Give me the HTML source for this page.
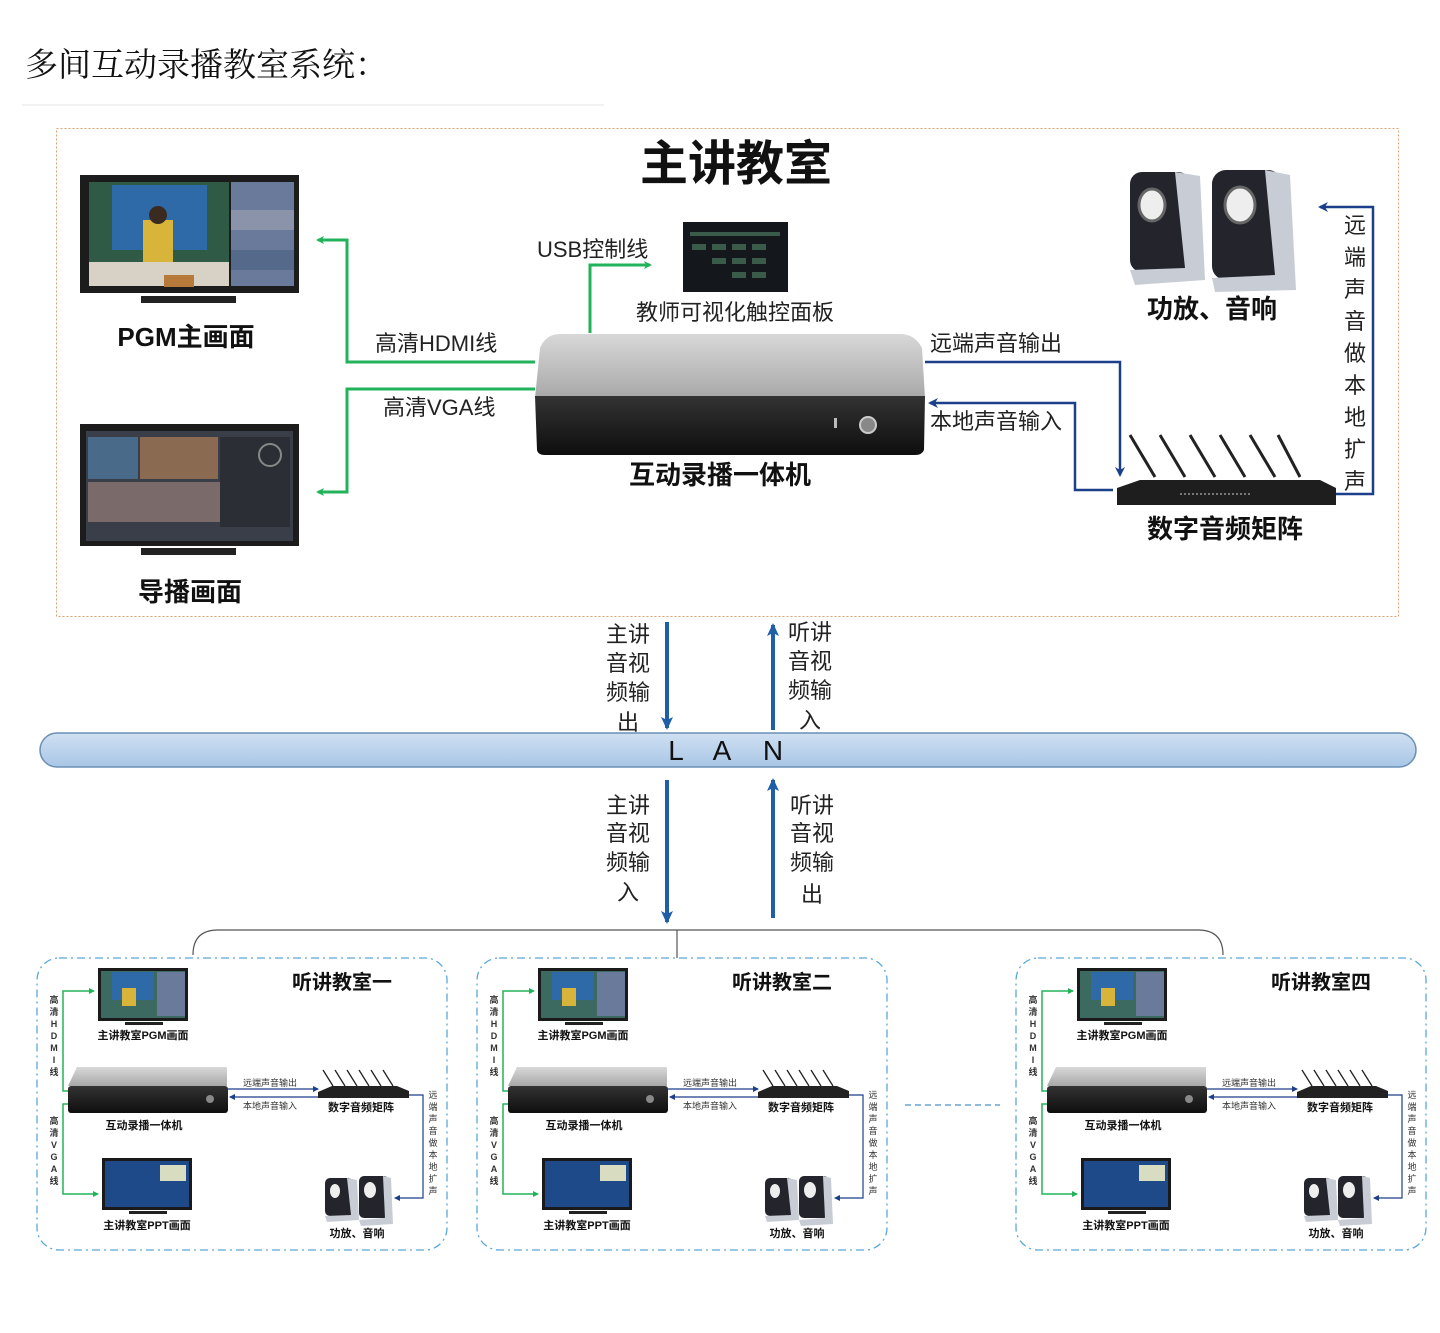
<!DOCTYPE html>
<html><head><meta charset="utf-8"><style>
html,body{margin:0;padding:0;background:#fff;width:1440px;height:1333px;overflow:hidden}
svg{display:block}
text{font-family:"Liberation Sans","Noto Sans CJK SC",sans-serif}
.b{font-weight:bold}
.s{font-family:"Liberation Serif","Noto Serif CJK SC",serif}
</style></head><body>
<svg width="1440" height="1333" viewBox="0 0 1440 1333" xmlns="http://www.w3.org/2000/svg">
<defs>
<marker id="ga" markerWidth="8" markerHeight="8" refX="6" refY="4" orient="auto" markerUnits="userSpaceOnUse"><path d="M0,0 L8,4 L0,8 L2,4z" fill="#22b35a"/></marker>
<marker id="ba" markerWidth="10" markerHeight="10" refX="8" refY="5" orient="auto" markerUnits="userSpaceOnUse"><path d="M0,0 L10,5 L0,10 L3,5z" fill="#1c3f8a"/></marker>
<marker id="la" markerWidth="14" markerHeight="14" refX="11" refY="7" orient="auto" markerUnits="userSpaceOnUse"><path d="M0,1 L13,7 L0,13 L3,7z" fill="#1f5fa8"/></marker>
<marker id="sa" markerWidth="6" markerHeight="6" refX="5" refY="3" orient="auto" markerUnits="userSpaceOnUse"><path d="M0,0 L6,3 L0,6z" fill="#1c3f8a"/></marker>
<marker id="sg" markerWidth="6" markerHeight="6" refX="5" refY="3" orient="auto" markerUnits="userSpaceOnUse"><path d="M0,0 L6,3 L0,6z" fill="#22b35a"/></marker>
<linearGradient id="sil" x1="0" y1="0" x2="0" y2="1"><stop offset="0" stop-color="#d8d8d8"/><stop offset="1" stop-color="#a8a8a8"/></linearGradient>
<linearGradient id="blk" x1="0" y1="0" x2="0" y2="1"><stop offset="0" stop-color="#333"/><stop offset="1" stop-color="#0e0e0e"/></linearGradient>
<linearGradient id="lan" x1="0" y1="0" x2="0" y2="1"><stop offset="0" stop-color="#cfe0f2"/><stop offset="1" stop-color="#a9c6e6"/></linearGradient>
</defs>

<!-- header -->
<text x="25" y="76" font-size="33" class="s" fill="#111">多间互动录播教室系统：</text>
<line x1="22" y1="105" x2="604" y2="105" stroke="#eee" stroke-width="1.5"/>

<!-- main frame -->
<rect x="56.5" y="128.5" width="1342" height="488" fill="none" stroke="#e0a070" stroke-width="1" stroke-dasharray="2,2"/>
<text x="736" y="180" font-size="48" class="b" text-anchor="middle" fill="#111">主讲教室</text>

<!-- PGM monitor -->
<rect x="80" y="175" width="219" height="118" fill="#1c1c1c"/>
<rect x="89" y="182" width="140" height="104" fill="#2e5a46"/>
<rect x="112" y="185" width="95" height="65" fill="#2f6aa8"/>
<rect x="89" y="262" width="140" height="24" fill="#d8d2c6"/>
<rect x="143" y="220" width="30" height="42" fill="#d8b43a"/>
<circle cx="158" cy="215" r="9" fill="#3a2a20"/>
<rect x="164" y="275" width="30" height="12" fill="#b87a3a"/>
<rect x="231" y="182" width="63" height="104" fill="#6a7a9a"/>
<rect x="231" y="210" width="63" height="20" fill="#8a93aa"/>
<rect x="231" y="250" width="63" height="20" fill="#556a8a"/>
<rect x="141" y="296" width="95" height="7" fill="#222"/>
<text x="186" y="346" font-size="26" class="b" text-anchor="middle" fill="#111">PGM主画面</text>

<!-- director monitor -->
<rect x="80" y="424" width="219" height="122" fill="#1c1c1c"/>
<rect x="86" y="431" width="207" height="110" fill="#3a3e48"/>
<rect x="88" y="437" width="50" height="42" fill="#4a6a8a"/>
<rect x="140" y="437" width="78" height="42" fill="#8a6a50"/>
<rect x="88" y="482" width="150" height="40" fill="#7a6a6a"/>
<rect x="220" y="437" width="70" height="90" fill="#2b2e34"/>
<circle cx="270" cy="455" r="11" fill="none" stroke="#888" stroke-width="2"/>
<rect x="141" y="548" width="95" height="7" fill="#222"/>
<text x="190" y="601" font-size="26" class="b" text-anchor="middle" fill="#111">导播画面</text>

<!-- green links -->
<polyline points="535,362 347,362 347,240 318,240" fill="none" stroke="#22b35a" stroke-width="3" marker-end="url(#ga)"/>
<polyline points="535,389 347,389 347,492 318,492" fill="none" stroke="#22b35a" stroke-width="3" marker-end="url(#ga)"/>
<text x="375" y="351" font-size="22" fill="#222">高清HDMI线</text>
<text x="383" y="415" font-size="22" fill="#222">高清VGA线</text>
<polyline points="590,333 590,265 650,265" fill="none" stroke="#22b35a" stroke-width="3" marker-end="url(#ga)"/>
<text x="537" y="257" font-size="22" fill="#222">USB控制线</text>

<!-- touch panel -->
<rect x="683" y="222" width="105" height="70" fill="#14181c"/>
<g fill="#3a5a4a"><rect x="690" y="232" width="90" height="4"/><rect x="692" y="244" width="14" height="6"/><rect x="712" y="244" width="14" height="6"/><rect x="732" y="244" width="14" height="6"/><rect x="752" y="244" width="14" height="6"/><rect x="712" y="258" width="14" height="6"/><rect x="732" y="258" width="14" height="6"/><rect x="752" y="258" width="14" height="6"/><rect x="732" y="272" width="14" height="6"/><rect x="752" y="272" width="14" height="6"/></g>
<text x="735" y="320" font-size="22" text-anchor="middle" fill="#222">教师可视化触控面板</text>

<!-- main device -->
<path d="M560,334 L900,334 Q915,334 922,348 L925,398 L535,398 L540,348 Q546,334 560,334z" fill="url(#sil)"/>
<path d="M535,396 L925,396 L924,450 Q922,455 915,455 L545,455 Q538,455 537,450z" fill="url(#blk)"/>
<rect x="834" y="418" width="3" height="10" fill="#bbb"/>
<circle cx="868" cy="425" r="8" fill="#888" stroke="#ccc" stroke-width="2"/>
<text x="720" y="484" font-size="26" class="b" text-anchor="middle" fill="#111">互动录播一体机</text>

<!-- blue audio links -->
<polyline points="925,362 1120,362 1120,475" fill="none" stroke="#1c3f8a" stroke-width="2.5" marker-end="url(#ba)"/>
<text x="930" y="351" font-size="22" fill="#222">远端声音输出</text>
<polyline points="1113,490 1075,490 1075,403 930,403" fill="none" stroke="#1c3f8a" stroke-width="2.5" marker-end="url(#ba)"/>
<text x="930" y="429" font-size="22" fill="#222">本地声音输入</text>

<!-- matrix -->
<g stroke="#222" stroke-width="3">
<line x1="1130" y1="435" x2="1155" y2="477"/><line x1="1160" y1="435" x2="1185" y2="477"/><line x1="1190" y1="435" x2="1215" y2="477"/><line x1="1220" y1="435" x2="1245" y2="477"/><line x1="1250" y1="435" x2="1275" y2="477"/><line x1="1278" y1="435" x2="1300" y2="477"/></g>
<path d="M1140,480 L1320,480 L1336,488 L1336,505 L1117,505 L1117,488z" fill="#1e1e1e"/>
<line x1="1180" y1="494" x2="1250" y2="494" stroke="#777" stroke-width="2" stroke-dasharray="2,2"/>
<text x="1225" y="538" font-size="26" class="b" text-anchor="middle" fill="#111">数字音频矩阵</text>

<!-- speakers -->
<rect x="1130" y="172" width="60" height="100" rx="12" fill="#23242c"/>
<path d="M1175,172 L1200,176 L1205,280 L1135,285 L1130,270 L1185,268z" fill="#c8ccd4"/>
<ellipse cx="1152" cy="205" rx="13" ry="16" fill="#eee" stroke="#666" stroke-width="3"/>
<rect x="1212" y="170" width="70" height="110" rx="14" fill="#23242c"/>
<path d="M1265,170 L1290,175 L1296,290 L1215,292 L1212,278 L1275,275z" fill="#c8ccd4"/>
<ellipse cx="1240" cy="205" rx="15" ry="18" fill="#eee" stroke="#666" stroke-width="3"/>
<text x="1212" y="318" font-size="26" class="b" text-anchor="middle" fill="#111">功放、音响</text>
<polyline points="1336,494 1373,494 1373,207 1320,207" fill="none" stroke="#1c3f8a" stroke-width="2.5" marker-end="url(#ba)"/>
<g font-size="22" fill="#222" text-anchor="middle">
<text x="1355" y="233">远</text><text x="1355" y="265">端</text><text x="1355" y="297">声</text><text x="1355" y="329">音</text><text x="1355" y="361">做</text><text x="1355" y="393">本</text><text x="1355" y="425">地</text><text x="1355" y="457">扩</text><text x="1355" y="489">声</text></g>

<!-- LAN upper arrows -->
<line x1="667" y1="622" x2="667" y2="728" stroke="#1f5fa8" stroke-width="4" marker-end="url(#la)"/>
<line x1="773" y1="730" x2="773" y2="625" stroke="#1f5fa8" stroke-width="4" marker-end="url(#la)"/>
<g font-size="22" fill="#222" text-anchor="middle">
<text x="628" y="642">主讲</text><text x="628" y="671">音视</text><text x="628" y="700">频输</text><text x="628" y="730">出</text>
<text x="810" y="640">听讲</text><text x="810" y="669">音视</text><text x="810" y="698">频输</text><text x="810" y="728">入</text>
</g>
<rect x="40" y="733" width="1376" height="34" rx="17" fill="url(#lan)" stroke="#6a8fb5" stroke-width="1.5"/>
<g font-size="28" fill="#111" text-anchor="middle"><text x="676" y="760">L</text><text x="722" y="760">A</text><text x="773" y="760">N</text></g>

<!-- LAN lower arrows -->
<line x1="667" y1="780" x2="667" y2="922" stroke="#1f5fa8" stroke-width="4" marker-end="url(#la)"/>
<line x1="773" y1="918" x2="773" y2="780" stroke="#1f5fa8" stroke-width="4" marker-end="url(#la)"/>
<g font-size="22" fill="#222" text-anchor="middle">
<text x="628" y="813">主讲</text><text x="628" y="841">音视</text><text x="628" y="870">频输</text><text x="628" y="900">入</text>
<text x="812" y="813">听讲</text><text x="812" y="841">音视</text><text x="812" y="870">频输</text><text x="812" y="902">出</text>
</g>
<path d="M193,955 Q193,930 218,930 L1198,930 Q1223,930 1223,955" fill="none" stroke="#555" stroke-width="1.2"/>
<line x1="677" y1="930" x2="677" y2="958" stroke="#555" stroke-width="1.2"/>
<line x1="905" y1="1105" x2="1000" y2="1105" stroke="#4a90c8" stroke-width="1.2" stroke-dasharray="6,4"/>

<!-- classrooms -->
<g id="r1" transform="translate(37,958)">
<rect x="0" y="0" width="410" height="292" rx="22" fill="none" stroke="#5aa8d8" stroke-width="1.3" stroke-dasharray="8,4,2,4"/>
<text x="305" y="31" font-size="20" class="b" text-anchor="middle" fill="#111">听讲教室一</text>
<rect x="61" y="10" width="90" height="53" fill="#1a1a1a"/><rect x="64" y="13" width="84" height="47" fill="#3d6a60"/><rect x="75" y="14" width="42" height="28" fill="#2f6aa8"/><rect x="85" y="30" width="14" height="18" fill="#d8b43a"/><rect x="120" y="14" width="28" height="44" fill="#6a7a9a"/>
<rect x="88" y="64" width="38" height="3" fill="#222"/>
<text x="106" y="81" font-size="11" class="b" text-anchor="middle" fill="#111">主讲教室PGM画面</text>
<path d="M40,109 L190,109 L190,128 L31,128z" fill="url(#sil)"/>
<rect x="31" y="128" width="160" height="27" rx="3" fill="url(#blk)"/>
<circle cx="173" cy="141" r="4" fill="#888"/>
<text x="107" y="171" font-size="11" class="b" text-anchor="middle" fill="#111">互动录播一体机</text>
<line x1="191" y1="131" x2="281" y2="131" stroke="#1c3f8a" stroke-width="1.2" marker-end="url(#sa)"/>
<line x1="281" y1="139" x2="193" y2="139" stroke="#1c3f8a" stroke-width="1.2" marker-end="url(#sa)"/>
<text x="233" y="128" font-size="9" text-anchor="middle" fill="#333">远端声音输出</text>
<text x="233" y="151" font-size="9" text-anchor="middle" fill="#333">本地声音输入</text>
<g stroke="#222" stroke-width="1.3"><line x1="286" y1="112" x2="296" y2="128"/><line x1="298" y1="112" x2="308" y2="128"/><line x1="310" y1="112" x2="320" y2="128"/><line x1="322" y1="112" x2="332" y2="128"/><line x1="334" y1="112" x2="344" y2="128"/><line x1="346" y1="112" x2="356" y2="128"/></g>
<path d="M295,128 L360,128 L372,133 L372,140 L281,140 L281,134z" fill="#222"/>
<text x="324" y="153" font-size="11" class="b" text-anchor="middle" fill="#111">数字音频矩阵</text>
<rect x="65" y="200" width="90" height="52" fill="#1a1a1a"/><rect x="68" y="203" width="84" height="46" fill="#1f4a8a"/><rect x="123" y="207" width="26" height="16" fill="#d8dcc0"/>
<rect x="92" y="253" width="38" height="3" fill="#222"/>
<text x="110" y="271" font-size="11" class="b" text-anchor="middle" fill="#111">主讲教室PPT画面</text>
<rect x="288" y="220" width="28" height="38" rx="5" fill="#23242c"/><path d="M310,220 L320,222 L322,262 L290,264 L288,258 L314,257z" fill="#c8ccd4"/><ellipse cx="298" cy="233" rx="5" ry="7" fill="#eee"/>
<rect x="322" y="218" width="30" height="42" rx="5" fill="#23242c"/><path d="M346,218 L354,220 L356,266 L324,268 L322,262 L348,260z" fill="#c8ccd4"/><ellipse cx="333" cy="232" rx="6" ry="8" fill="#eee"/>
<text x="320" y="279" font-size="11" class="b" text-anchor="middle" fill="#111">功放、音响</text>
<polyline points="372,137 386,137 386,240 358,240" fill="none" stroke="#1c3f8a" stroke-width="1.2" marker-end="url(#sa)"/>
<g font-size="9" fill="#333" text-anchor="middle"><text x="396" y="140">远</text><text x="396" y="152">端</text><text x="396" y="164">声</text><text x="396" y="176">音</text><text x="396" y="188">做</text><text x="396" y="200">本</text><text x="396" y="212">地</text><text x="396" y="224">扩</text><text x="396" y="236">声</text></g>
<polyline points="31,133 26,133 26,33 57,33" fill="none" stroke="#22b35a" stroke-width="1.5" marker-end="url(#sg)"/>
<polyline points="31,146 26,146 26,236 61,236" fill="none" stroke="#22b35a" stroke-width="1.5" marker-end="url(#sg)"/>
<g font-size="9" class="b" fill="#333" text-anchor="middle"><text x="17" y="45">高</text><text x="17" y="57">清</text><text x="17" y="69">H</text><text x="17" y="81">D</text><text x="17" y="93">M</text><text x="17" y="105">I</text><text x="17" y="117">线</text>
<text x="17" y="166">高</text><text x="17" y="178">清</text><text x="17" y="190">V</text><text x="17" y="202">G</text><text x="17" y="214">A</text><text x="17" y="226">线</text></g>
</g>

<g transform="translate(477,958)">
<rect x="0" y="0" width="410" height="292" rx="22" fill="none" stroke="#5aa8d8" stroke-width="1.3" stroke-dasharray="8,4,2,4"/>
<text x="305" y="31" font-size="20" class="b" text-anchor="middle" fill="#111">听讲教室二</text>
<rect x="61" y="10" width="90" height="53" fill="#1a1a1a"/><rect x="64" y="13" width="84" height="47" fill="#3d6a60"/><rect x="75" y="14" width="42" height="28" fill="#2f6aa8"/><rect x="85" y="30" width="14" height="18" fill="#d8b43a"/><rect x="120" y="14" width="28" height="44" fill="#6a7a9a"/>
<rect x="88" y="64" width="38" height="3" fill="#222"/>
<text x="106" y="81" font-size="11" class="b" text-anchor="middle" fill="#111">主讲教室PGM画面</text>
<path d="M40,109 L190,109 L190,128 L31,128z" fill="url(#sil)"/>
<rect x="31" y="128" width="160" height="27" rx="3" fill="url(#blk)"/>
<circle cx="173" cy="141" r="4" fill="#888"/>
<text x="107" y="171" font-size="11" class="b" text-anchor="middle" fill="#111">互动录播一体机</text>
<line x1="191" y1="131" x2="281" y2="131" stroke="#1c3f8a" stroke-width="1.2" marker-end="url(#sa)"/>
<line x1="281" y1="139" x2="193" y2="139" stroke="#1c3f8a" stroke-width="1.2" marker-end="url(#sa)"/>
<text x="233" y="128" font-size="9" text-anchor="middle" fill="#333">远端声音输出</text>
<text x="233" y="151" font-size="9" text-anchor="middle" fill="#333">本地声音输入</text>
<g stroke="#222" stroke-width="1.3"><line x1="286" y1="112" x2="296" y2="128"/><line x1="298" y1="112" x2="308" y2="128"/><line x1="310" y1="112" x2="320" y2="128"/><line x1="322" y1="112" x2="332" y2="128"/><line x1="334" y1="112" x2="344" y2="128"/><line x1="346" y1="112" x2="356" y2="128"/></g>
<path d="M295,128 L360,128 L372,133 L372,140 L281,140 L281,134z" fill="#222"/>
<text x="324" y="153" font-size="11" class="b" text-anchor="middle" fill="#111">数字音频矩阵</text>
<rect x="65" y="200" width="90" height="52" fill="#1a1a1a"/><rect x="68" y="203" width="84" height="46" fill="#1f4a8a"/><rect x="123" y="207" width="26" height="16" fill="#d8dcc0"/>
<rect x="92" y="253" width="38" height="3" fill="#222"/>
<text x="110" y="271" font-size="11" class="b" text-anchor="middle" fill="#111">主讲教室PPT画面</text>
<rect x="288" y="220" width="28" height="38" rx="5" fill="#23242c"/><path d="M310,220 L320,222 L322,262 L290,264 L288,258 L314,257z" fill="#c8ccd4"/><ellipse cx="298" cy="233" rx="5" ry="7" fill="#eee"/>
<rect x="322" y="218" width="30" height="42" rx="5" fill="#23242c"/><path d="M346,218 L354,220 L356,266 L324,268 L322,262 L348,260z" fill="#c8ccd4"/><ellipse cx="333" cy="232" rx="6" ry="8" fill="#eee"/>
<text x="320" y="279" font-size="11" class="b" text-anchor="middle" fill="#111">功放、音响</text>
<polyline points="372,137 386,137 386,240 358,240" fill="none" stroke="#1c3f8a" stroke-width="1.2" marker-end="url(#sa)"/>
<g font-size="9" fill="#333" text-anchor="middle"><text x="396" y="140">远</text><text x="396" y="152">端</text><text x="396" y="164">声</text><text x="396" y="176">音</text><text x="396" y="188">做</text><text x="396" y="200">本</text><text x="396" y="212">地</text><text x="396" y="224">扩</text><text x="396" y="236">声</text></g>
<polyline points="31,133 26,133 26,33 57,33" fill="none" stroke="#22b35a" stroke-width="1.5" marker-end="url(#sg)"/>
<polyline points="31,146 26,146 26,236 61,236" fill="none" stroke="#22b35a" stroke-width="1.5" marker-end="url(#sg)"/>
<g font-size="9" class="b" fill="#333" text-anchor="middle"><text x="17" y="45">高</text><text x="17" y="57">清</text><text x="17" y="69">H</text><text x="17" y="81">D</text><text x="17" y="93">M</text><text x="17" y="105">I</text><text x="17" y="117">线</text>
<text x="17" y="166">高</text><text x="17" y="178">清</text><text x="17" y="190">V</text><text x="17" y="202">G</text><text x="17" y="214">A</text><text x="17" y="226">线</text></g>
</g>

<g transform="translate(1016,958)">
<rect x="0" y="0" width="410" height="292" rx="22" fill="none" stroke="#5aa8d8" stroke-width="1.3" stroke-dasharray="8,4,2,4"/>
<text x="305" y="31" font-size="20" class="b" text-anchor="middle" fill="#111">听讲教室四</text>
<rect x="61" y="10" width="90" height="53" fill="#1a1a1a"/><rect x="64" y="13" width="84" height="47" fill="#3d6a60"/><rect x="75" y="14" width="42" height="28" fill="#2f6aa8"/><rect x="85" y="30" width="14" height="18" fill="#d8b43a"/><rect x="120" y="14" width="28" height="44" fill="#6a7a9a"/>
<rect x="88" y="64" width="38" height="3" fill="#222"/>
<text x="106" y="81" font-size="11" class="b" text-anchor="middle" fill="#111">主讲教室PGM画面</text>
<path d="M40,109 L190,109 L190,128 L31,128z" fill="url(#sil)"/>
<rect x="31" y="128" width="160" height="27" rx="3" fill="url(#blk)"/>
<circle cx="173" cy="141" r="4" fill="#888"/>
<text x="107" y="171" font-size="11" class="b" text-anchor="middle" fill="#111">互动录播一体机</text>
<line x1="191" y1="131" x2="281" y2="131" stroke="#1c3f8a" stroke-width="1.2" marker-end="url(#sa)"/>
<line x1="281" y1="139" x2="193" y2="139" stroke="#1c3f8a" stroke-width="1.2" marker-end="url(#sa)"/>
<text x="233" y="128" font-size="9" text-anchor="middle" fill="#333">远端声音输出</text>
<text x="233" y="151" font-size="9" text-anchor="middle" fill="#333">本地声音输入</text>
<g stroke="#222" stroke-width="1.3"><line x1="286" y1="112" x2="296" y2="128"/><line x1="298" y1="112" x2="308" y2="128"/><line x1="310" y1="112" x2="320" y2="128"/><line x1="322" y1="112" x2="332" y2="128"/><line x1="334" y1="112" x2="344" y2="128"/><line x1="346" y1="112" x2="356" y2="128"/></g>
<path d="M295,128 L360,128 L372,133 L372,140 L281,140 L281,134z" fill="#222"/>
<text x="324" y="153" font-size="11" class="b" text-anchor="middle" fill="#111">数字音频矩阵</text>
<rect x="65" y="200" width="90" height="52" fill="#1a1a1a"/><rect x="68" y="203" width="84" height="46" fill="#1f4a8a"/><rect x="123" y="207" width="26" height="16" fill="#d8dcc0"/>
<rect x="92" y="253" width="38" height="3" fill="#222"/>
<text x="110" y="271" font-size="11" class="b" text-anchor="middle" fill="#111">主讲教室PPT画面</text>
<rect x="288" y="220" width="28" height="38" rx="5" fill="#23242c"/><path d="M310,220 L320,222 L322,262 L290,264 L288,258 L314,257z" fill="#c8ccd4"/><ellipse cx="298" cy="233" rx="5" ry="7" fill="#eee"/>
<rect x="322" y="218" width="30" height="42" rx="5" fill="#23242c"/><path d="M346,218 L354,220 L356,266 L324,268 L322,262 L348,260z" fill="#c8ccd4"/><ellipse cx="333" cy="232" rx="6" ry="8" fill="#eee"/>
<text x="320" y="279" font-size="11" class="b" text-anchor="middle" fill="#111">功放、音响</text>
<polyline points="372,137 386,137 386,240 358,240" fill="none" stroke="#1c3f8a" stroke-width="1.2" marker-end="url(#sa)"/>
<g font-size="9" fill="#333" text-anchor="middle"><text x="396" y="140">远</text><text x="396" y="152">端</text><text x="396" y="164">声</text><text x="396" y="176">音</text><text x="396" y="188">做</text><text x="396" y="200">本</text><text x="396" y="212">地</text><text x="396" y="224">扩</text><text x="396" y="236">声</text></g>
<polyline points="31,133 26,133 26,33 57,33" fill="none" stroke="#22b35a" stroke-width="1.5" marker-end="url(#sg)"/>
<polyline points="31,146 26,146 26,236 61,236" fill="none" stroke="#22b35a" stroke-width="1.5" marker-end="url(#sg)"/>
<g font-size="9" class="b" fill="#333" text-anchor="middle"><text x="17" y="45">高</text><text x="17" y="57">清</text><text x="17" y="69">H</text><text x="17" y="81">D</text><text x="17" y="93">M</text><text x="17" y="105">I</text><text x="17" y="117">线</text>
<text x="17" y="166">高</text><text x="17" y="178">清</text><text x="17" y="190">V</text><text x="17" y="202">G</text><text x="17" y="214">A</text><text x="17" y="226">线</text></g>
</g>
</svg>
</body></html>
